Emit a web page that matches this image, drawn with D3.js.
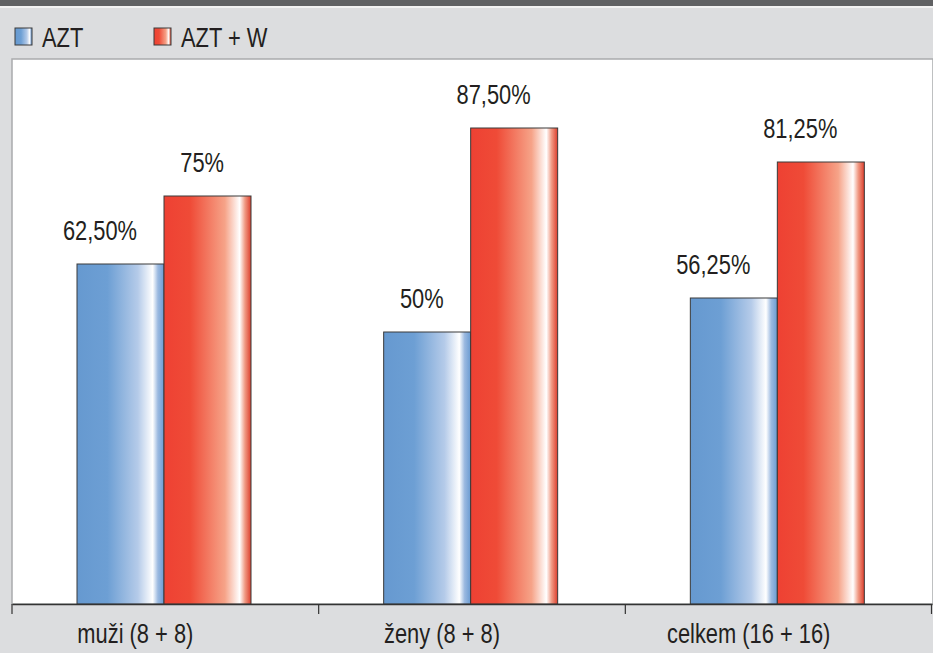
<!DOCTYPE html>
<html>
<head>
<meta charset="utf-8">
<script src="https://cdn.jsdelivr.net/npm/d3@7"></script>
<style>
  body { margin: 0; background: #dcdddf; }
  svg { display: block; }
  text { font-family: "Liberation Sans", Arial, sans-serif; fill: #231f20; font-size: 27px; }
</style>
</head>
<body>
<svg width="933" height="653"></svg>
<script>
const categories = ['muži (8 + 8)', 'ženy (8 + 8)', 'celkem (16 + 16)'];
const seriesNames = ['AZT', 'AZT + W'];
const aztValues = [62.5, 50, 56.25];
const aztWValues = [75, 87.5, 81.25];
const aztLabels = ['62,50%', '50%', '56,25%'];
const aztWLabels = ['75%', '87,50%', '81,25%'];

const svg = d3.select('svg');
const width = 933, height = 653;
const margin = { left: 12, right: 1, top: 60, bottom: 49 };
const innerBottom = height - margin.bottom;
const narrow = 0.81; // condensed look

// place a condensed text label
const place = (sel, fx, fy) => sel.attr('transform', (d, i) => `translate(${fx(d, i)},${fy(d, i)}) scale(${narrow},1)`);

// top dark strip
svg.append('rect').attr('x', 0).attr('y', 0).attr('width', width).attr('height', 6).attr('fill', '#606163');
svg.append('rect').attr('x', 0).attr('y', 6).attr('width', width).attr('height', 2).attr('fill', '#f2f2f2');
svg.append('rect').attr('x', 0).attr('y', 8).attr('width', width).attr('height', height - 8).attr('fill', '#dcdddf');

const defs = svg.append('defs');
const gradBlue = defs.append('linearGradient').attr('id', 'gBlue');
[[0, '#6699d0'], [0.35, '#6d9fd4'], [0.7, '#b5cbe9'], [0.87, '#ffffff'], [0.93, '#9bb9e0'], [1, '#6a9bd2']]
  .forEach(([o, c]) => gradBlue.append('stop').attr('offset', o).attr('stop-color', c));
const gradRed = defs.append('linearGradient').attr('id', 'gRed');
[[0, '#ee4133'], [0.3, '#ef4b37'], [0.7, '#f6a388'], [0.87, '#ffffff'], [0.93, '#f09a84'], [1, '#dc3d2c']]
  .forEach(([o, c]) => gradRed.append('stop').attr('offset', o).attr('stop-color', c));
const fills = { 'AZT': 'url(#gBlue)', 'AZT + W': 'url(#gRed)' };

// plot area
svg.append('rect')
  .attr('x', margin.left).attr('y', margin.top - 1)
  .attr('width', width - margin.left - margin.right + 1).attr('height', innerBottom - margin.top + 1)
  .attr('fill', '#ffffff').attr('stroke', '#a9abad').attr('stroke-width', 1.5);

const x = d3.scaleBand().domain(categories).range([margin.left, 932]);
const xs = d3.scaleBand().domain(seriesNames).range([65, 239]);
const y = d3.scaleLinear().domain([0, 100]).range([innerBottom, margin.top]);

const data = categories.map((c, i) => ({
  cat: c,
  bars: [
    { s: 'AZT', v: aztValues[i], label: aztLabels[i] },
    { s: 'AZT + W', v: aztWValues[i], label: aztWLabels[i] }
  ]
}));

const groups = svg.selectAll('.grp').data(data).enter().append('g')
  .attr('class', 'grp')
  .attr('transform', d => `translate(${x(d.cat)},0)`);

groups.selectAll('rect').data(d => d.bars).enter().append('rect')
  .attr('x', d => xs(d.s))
  .attr('y', d => y(d.v))
  .attr('width', xs.bandwidth())
  .attr('height', d => innerBottom - y(d.v))
  .attr('fill', d => fills[d.s])
  .attr('stroke', '#3a3a3a')
  .attr('stroke-width', 1);

groups.selectAll('text.val').data(d => d.bars).enter().append('text')
  .attr('class', 'val')
  .attr('text-anchor', 'end')
  .call(place, d => xs(d.s) + xs.bandwidth() - 27, d => y(d.v) - 24)
  .text(d => d.label);

// x axis
const axis = svg.append('g').attr('transform', `translate(0,${innerBottom})`)
  .call(d3.axisBottom(x).tickSize(0).tickFormat(''));
axis.select('.domain').attr('stroke', '#333').attr('stroke-width', 1.5);
const tickXs = categories.map(c => x(c)).concat([x.range()[1] - 0.5]);
axis.selectAll('.sep').data(tickXs).enter().append('line')
  .attr('x1', d => d).attr('x2', d => d).attr('y1', 0).attr('y2', 10)
  .attr('stroke', '#333').attr('stroke-width', 1.2);

svg.selectAll('.cat').data(categories).enter().append('text')
  .attr('class', 'cat')
  .attr('text-anchor', 'middle')
  .call(place, d => x(d) + x.bandwidth() / 2 - 30, () => 643)
  .text(d => d);

// legend
const legendX = [15, 154];
const leg = svg.selectAll('.leg').data(seriesNames).enter().append('g')
  .attr('transform', (d, i) => `translate(${legendX[i]},28)`);
leg.append('rect').attr('width', 17).attr('height', 17)
  .attr('fill', d => fills[d]).attr('stroke', '#3a3a3a').attr('stroke-width', 1);
leg.append('text')
  .call(place, () => 27, () => 19)
  .text(d => d);
</script>
</body>
</html>
